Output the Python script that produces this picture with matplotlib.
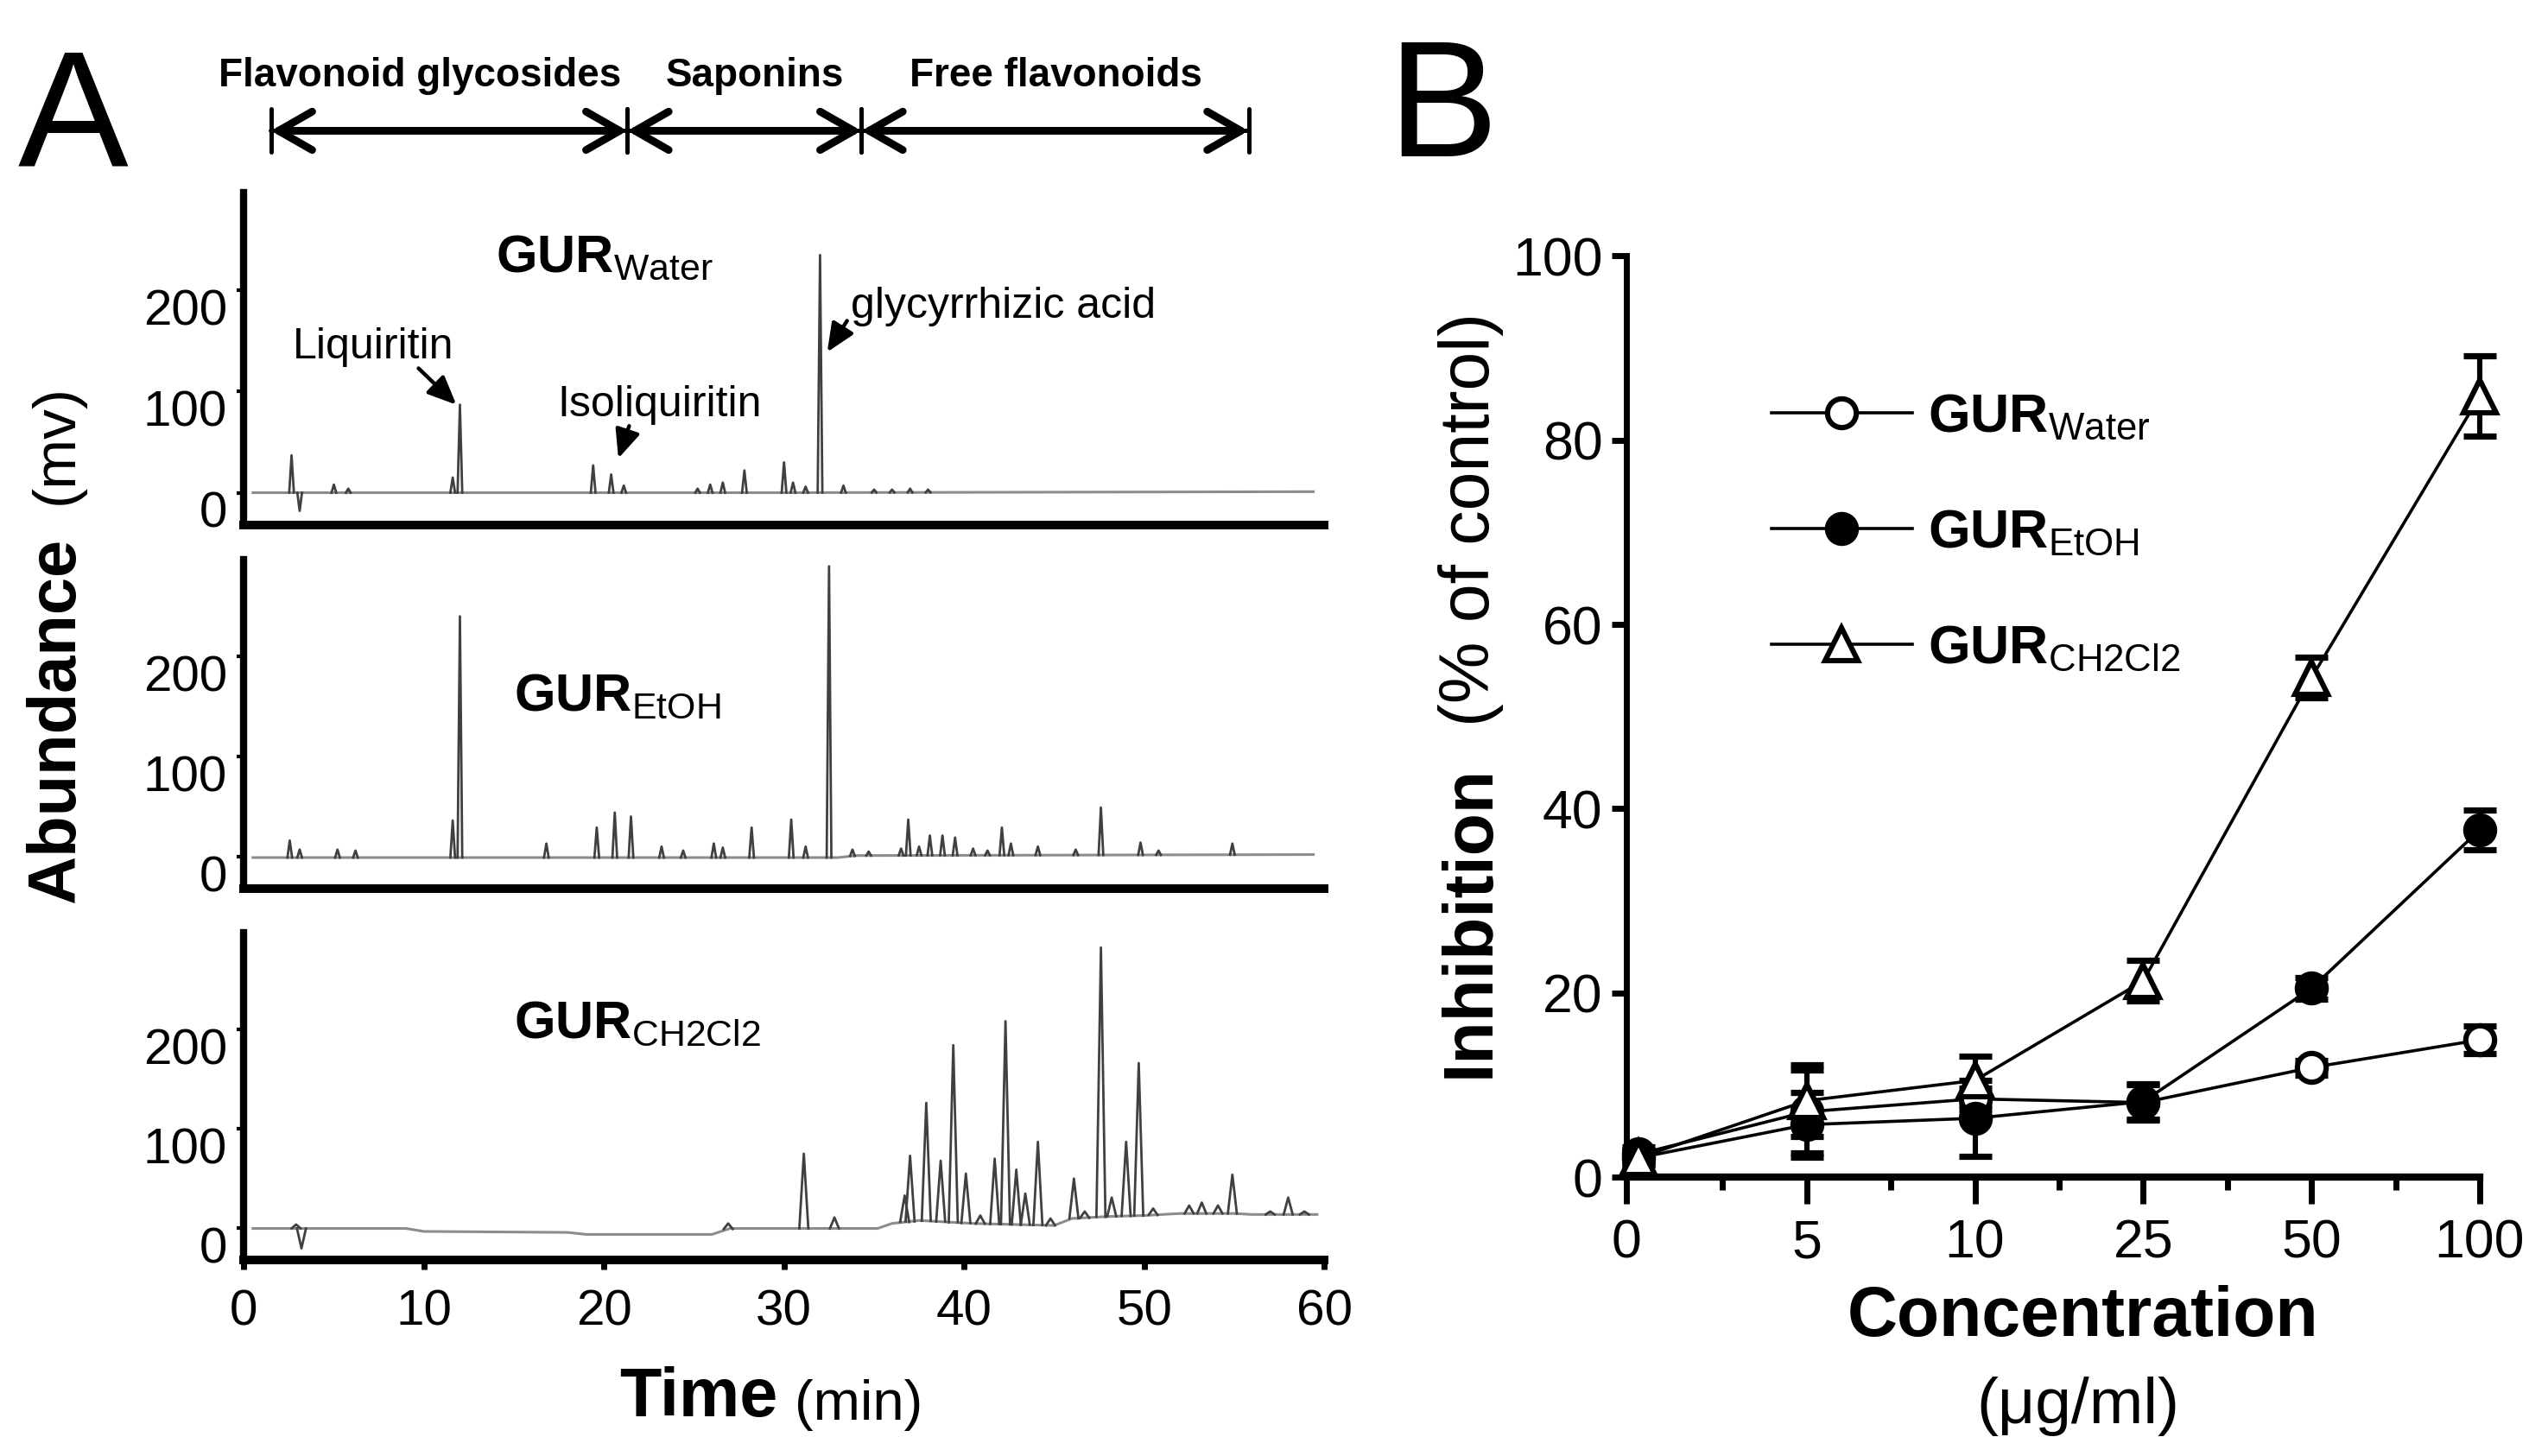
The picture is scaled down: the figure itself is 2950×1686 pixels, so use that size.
import numpy as np
import matplotlib
matplotlib.use("Agg")
import matplotlib.pyplot as plt
from matplotlib.transforms import ScaledTranslation, blended_transform_factory

plt.rcParams['font.family'] = ['Liberation Sans', 'DejaVu Sans']
plt.rcParams['mathtext.fontset'] = 'custom'
plt.rcParams['mathtext.rm'] = 'Liberation Sans'
plt.rcParams['mathtext.bf'] = 'Liberation Sans:bold'
plt.rcParams['mathtext.it'] = 'Liberation Sans:italic'

# ---------- Panel A: HPLC chromatograms (time in min, abundance in mV) ----------
water_peak_t = [2.65, 3.1, 5.0, 5.8, 11.6, 12.0, 19.4, 20.4, 21.1, 25.2, 25.9,
                26.6, 27.8, 30.0, 30.5, 31.2, 32.0, 33.3, 35.0, 36.0, 37.0, 38.0]
water_peak_h = [37, -18, 8, 4, 15, 87, 27, 18, 7, 4, 8,
                10, 22, 30, 10, 6, 235, 7, 3, 3, 4, 3]
water_base_t = [0.5, 30.0, 59.4]
water_base_v = [0, 0, 1]

etoh_peak_t = [2.55, 3.1, 5.2, 6.2, 11.6, 12.0, 16.8, 19.6, 20.6, 21.5, 23.2, 24.4,
               26.1, 26.6, 28.2, 30.4, 31.2, 32.5, 33.8, 34.7, 36.5, 36.9, 37.5, 38.1,
               38.8, 39.5, 40.5, 41.3, 42.1, 42.6, 44.1, 46.2, 47.6, 49.8, 50.8, 54.9]
etoh_peak_h = [16, 7, 7, 6, 36, 240, 13, 29, 44, 40, 10, 6,
               13, 9, 29, 37, 10, 290, 7, 5, 8, 37, 10, 21,
               21, 19, 8, 6, 29, 13, 10, 7, 49, 14, 6, 13]
etoh_base_t = [0.5, 33.0, 34.0, 59.4]
etoh_base_v = [-1, -1, 1, 2]

dcm_peak_t = [2.9, 3.2, 26.9, 31.1, 32.8, 36.7, 37.0, 37.9, 38.7, 39.4, 40.1,
              40.9, 41.7, 42.3, 42.9, 43.4, 44.1, 44.8, 46.1, 46.7, 47.6, 48.2,
              49.0, 49.7, 50.5, 52.5, 53.2, 54.1, 54.9, 57.0, 58.0, 58.9]
dcm_peak_h = [4, -20, 5, 75, 11, 33, 73, 126, 68, 184, 55,
              13, 70, 208, 59, 35, 87, 10, 50, 17, 282, 31,
              87, 166, 20, 23, 26, 23, 54, 17, 31, 17]
dcm_base_t = [0.5, 9, 10, 18, 19, 26, 27, 35.2, 36, 37.5, 40.5, 45, 46, 48, 50, 52, 55, 56, 59.6]
dcm_base_v = [0, 0, -3, -4, -6, -6, 0, 0, 5, 8, 5, 3, 10, 12, 13, 15, 15, 14, 14]

# compound classes along the time axis
class_names = ['Flavonoid glycosides', 'Saponins', 'Free flavonoids']
class_edges = [1.5, 21.3, 34.3, 55.8]
class_label_t = [9.8, 28.4, 45.1]

# ---------- Panel B: inhibition (% of control) ----------
conc_labels = ['0', '5', '10', '25', '50', '100']
water_mean = [2.5, 7.1, 8.5, 8.1, 11.9, 14.9]
water_sd = [0.8, 4.5, 1.2, 1.9, 0.8, 1.5]
etoh_mean = [2.1, 5.7, 6.4, 8.2, 20.5, 37.7]
etoh_sd = [0.8, 3.5, 4.1, 1.9, 1.2, 2.2]
dcm_mean = [2.1, 8.3, 10.5, 21.3, 54.2, 84.8]
dcm_sd = [0.8, 3.9, 2.6, 2.2, 2.2, 4.4]

fig = plt.figure(figsize=(14.75, 8.43), dpi=200)


def draw_trace(ax, pt, ph, bt, bv, w):
    pt = np.asarray(pt, float)
    ph = np.asarray(ph, float)
    b = np.interp(pt, bt, bv)
    gap = np.full_like(pt, np.nan)
    xs = np.column_stack([pt - w, pt, pt + w, gap]).ravel()
    ys = np.column_stack([b, ph, b, gap]).ravel()
    ax.plot(bt, bv, color='#8c8c8c', lw=1.1)
    ax.plot(xs, ys, color='#404040', lw=1.0)


def style_chrom(ax, show_x):
    ax.set_xlim(0, 60)
    ax.set_ylim(-32, 297)
    for s in ('top', 'right'):
        ax.spines[s].set_visible(False)
    ax.spines['left'].set_linewidth(3.0)
    ax.spines['bottom'].set_linewidth(3.6)
    ax.set_yticks([0, 100, 200])
    ax.tick_params(axis='y', length=3, width=1.5, labelsize=21, pad=4)
    off = ScaledTranslation(0, -7 / 72, fig.dpi_scale_trans)
    for lab in ax.get_yticklabels():
        lab.set_transform(lab.get_transform() + off)
    if show_x:
        ax.set_xticks(range(0, 61, 10))
        ax.tick_params(axis='x', length=4, width=2.5, labelsize=21, pad=8)
    else:
        ax.set_xticks([])


axA1 = fig.add_axes([0.0957, 0.6394, 0.424, 0.2285])
axA2 = fig.add_axes([0.0957, 0.3897, 0.424, 0.2262])
axA3 = fig.add_axes([0.0957, 0.1344, 0.424, 0.2251])

draw_trace(axA1, water_peak_t, water_peak_h, water_base_t, water_base_v, 0.13)
draw_trace(axA2, etoh_peak_t, etoh_peak_h, etoh_base_t, etoh_base_v, 0.13)
draw_trace(axA3, dcm_peak_t, dcm_peak_h, dcm_base_t, dcm_base_v, 0.25)
style_chrom(axA1, False)
style_chrom(axA2, False)
style_chrom(axA3, True)

axA1.text(14.0, 232, r'$\mathbf{GUR}_{\mathrm{Water}}$', fontsize=22, va='center')
axA2.text(15.0, 160, r'$\mathbf{GUR}_{\mathrm{EtOH}}$', fontsize=22, va='center')
axA3.text(15.0, 205, r'$\mathbf{GUR}_{\mathrm{CH2Cl2}}$', fontsize=22, va='center')

# peak annotations
arrow_kw = dict(arrowstyle='-|>,head_length=0.5,head_width=0.22', lw=1.6,
                color='black', shrinkA=0, shrinkB=0, mutation_scale=20)
axA1.text(7.2, 144, 'Liquiritin', fontsize=18, ha='center', va='center')
axA1.annotate('', xy=(11.8, 87), xytext=(9.7, 123), arrowprops=arrow_kw)
axA1.text(23.1, 87, 'Isoliquiritin', fontsize=18, ha='center', va='center')
axA1.annotate('', xy=(20.8, 34), xytext=(21.4, 66), arrowprops=arrow_kw)
axA1.text(33.7, 184, 'glycyrrhizic acid', fontsize=18, ha='left', va='center')
axA1.annotate('', xy=(32.4, 139), xytext=(33.5, 170), arrowprops=arrow_kw)

# class brackets above the top chromatogram
trans = blended_transform_factory(axA1.transData, axA1.transAxes)
for name, t0, t1, tl in zip(class_names, class_edges[:-1], class_edges[1:], class_label_t):
    axA1.annotate('', xy=(t1, 1.185), xytext=(t0, 1.185), xycoords=trans, textcoords=trans,
                  annotation_clip=False,
                  arrowprops=dict(arrowstyle='<->,head_length=0.7,head_width=0.4', lw=3.2,
                                  color='black', shrinkA=0, shrinkB=0, mutation_scale=20))
    axA1.annotate('', xy=(t1, 1.185), xytext=(t0, 1.185), xycoords=trans, textcoords=trans,
                  annotation_clip=False,
                  arrowprops=dict(arrowstyle='|-|,widthA=0.45,widthB=0.45', lw=1.8,
                                  color='black', shrinkA=0, shrinkB=0, mutation_scale=20))
    axA1.text(tl, 1.35, name, transform=trans, ha='center', va='center',
              fontsize=16.5, fontweight='bold')

# axis titles for panel A
t_time = fig.text(0.2742, 0.0392, 'Time', fontsize=28.5, fontweight='bold', ha='center', va='center')
axA3.annotate('(min)', xy=(1, 0), xycoords=t_time, xytext=(7, 0), textcoords='offset points',
              fontsize=23.5, ha='left', va='bottom', annotation_clip=False)
t_ab = fig.text(0.0223, 0.505, 'Abundance', fontsize=28, fontweight='bold', rotation=90,
                ha='center', va='center')
axA3.annotate('(mv)', xy=(0.5, 1), xycoords=t_ab, xytext=(0, 14), textcoords='offset points',
              fontsize=25, rotation=90, ha='center', va='bottom', annotation_clip=False)

fig.text(0.0287, 0.915, 'A', fontsize=69, ha='center', va='center')
fig.text(0.566, 0.922, 'B', fontsize=69, ha='center', va='center')

# ---------- Panel B ----------
axB = fig.add_axes([0.6384, 0.1915, 0.3348, 0.6327])
x_pos = np.arange(len(conc_labels))
x_left = -0.07

series = [
    (water_mean, water_sd, 'o', 'white', r'$\mathbf{GUR}_{\mathrm{Water}}$'),
    (etoh_mean, etoh_sd, 'o', 'black', r'$\mathbf{GUR}_{\mathrm{EtOH}}$'),
    (dcm_mean, dcm_sd, '^', 'white', r'$\mathbf{GUR}_{\mathrm{CH2Cl2}}$'),
]
handles = []
for mean, sd, mk, fc, lab in series:
    axB.errorbar(x_pos, mean, yerr=sd, fmt='none', ecolor='black', elinewidth=2.2,
                 capsize=7, capthick=2.6, clip_on=False, zorder=3)
    ms = 13.5 if mk == '^' else 12
    h, = axB.plot(x_pos, mean, marker=mk, ms=ms, mfc=fc, mec='black', mew=2.2,
                  color='black', lw=1.3, clip_on=False, zorder=4, label=lab)
    handles.append(h)

axB.set_xlim(x_left, x_pos[-1])
axB.set_ylim(0, 100)
for s in ('top', 'right'):
    axB.spines[s].set_visible(False)
axB.spines['left'].set_linewidth(2.5)
axB.spines['bottom'].set_linewidth(3.0)
axB.set_yticks(range(0, 101, 20))
axB.tick_params(axis='y', length=6, width=2.5, labelsize=22.5, pad=4)
axB.set_xticks([x_left] + list(x_pos[1:]), conc_labels)
axB.set_xticks(x_pos[:-1] + 0.5, minor=True)
axB.tick_params(axis='x', which='major', length=11, width=2.5, labelsize=22.5, pad=6)
axB.tick_params(axis='x', which='minor', length=5.5, width=2.5)

axB.legend(handles=handles, loc='center left', bbox_to_anchor=(0.17, 0.699), frameon=False,
           fontsize=22.5, handlelength=2.6, handletextpad=0.3, labelspacing=1.2,
           borderpad=0, borderaxespad=0, numpoints=1)

t_inh = fig.text(0.5772, 0.3673, 'Inhibition', fontsize=29, fontweight='bold', rotation=90,
                 ha='center', va='center')
axB.annotate('(% of control)', xy=(0.5, 1), xycoords=t_inh, xytext=(0, 16),
             textcoords='offset points', fontsize=29, rotation=90, ha='center', va='bottom',
             annotation_clip=False)
fig.text(0.8175, 0.095, 'Concentration', fontsize=29, fontweight='bold', ha='center', va='center')
fig.text(0.8155, 0.034, '(μg/ml)', fontsize=27, ha='center', va='center')

fig.savefig('out.png', dpi=200)
